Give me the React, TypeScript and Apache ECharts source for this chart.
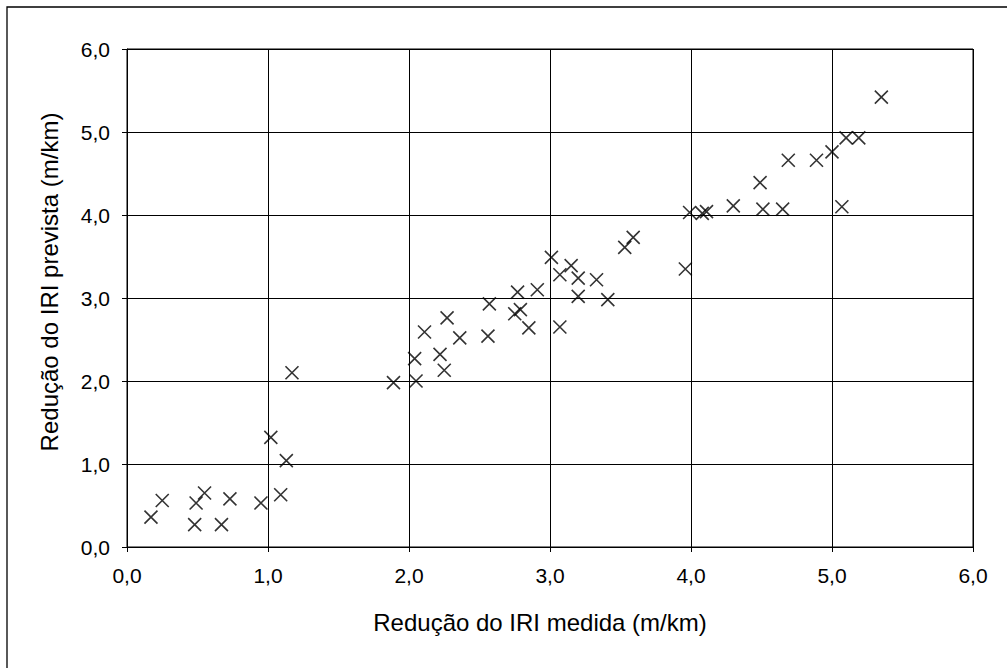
import React, { useEffect, useRef } from "react";
import * as echarts from "echarts";

const xMeasured: number[] = [
  0.17, 0.25, 0.48, 0.49, 0.55, 0.67, 0.73, 0.95, 1.02, 1.09, 1.13, 1.17,
  1.89, 2.04, 2.05, 2.11, 2.22, 2.27, 2.25, 2.36, 2.56, 2.57, 2.75, 2.79, 2.77, 2.85, 2.91,
  3.01, 3.07, 3.07, 3.15, 3.20, 3.20, 3.33, 3.41, 3.53, 3.59,
  3.96, 3.99, 4.08, 4.11, 4.30, 4.49, 4.51, 4.65, 4.69, 4.89, 5.00, 5.07, 5.10, 5.19, 5.35,
];
const yPredicted: number[] = [
  0.36, 0.56, 0.27, 0.53, 0.65, 0.27, 0.58, 0.53, 1.32, 0.63, 1.04, 2.10,
  1.98, 2.27, 2.00, 2.59, 2.32, 2.76, 2.13, 2.52, 2.54, 2.93, 2.81, 2.86, 3.07, 2.64, 3.10,
  3.49, 2.65, 3.28, 3.39, 3.24, 3.02, 3.22, 2.98, 3.61, 3.73,
  3.35, 4.03, 4.02, 4.04, 4.11, 4.39, 4.07, 4.07, 4.66, 4.66, 4.76, 4.10, 4.93, 4.93, 5.42,
];
const axisTicks: number[] = [0, 1, 2, 3, 4, 5, 6];
const xTitle = "Redução do IRI medida (m/km)";
const yTitle = "Redução do IRI prevista (m/km)";

export default function App() {
  const ref = useRef<HTMLDivElement>(null);
  useEffect(() => {
    if (!ref.current) return;
    const chart = echarts.init(ref.current, null, { renderer: "svg" });
    const data = xMeasured.map((x, i) => [x, yPredicted[i]]);
    const fmt = (v: number) => v.toFixed(1).replace(".", ",");
    const font = "Liberation Sans, Arial, sans-serif";
    const axisCommon = {
      min: axisTicks[0],
      max: axisTicks[axisTicks.length - 1],
      interval: 1,
      axisLine: { show: true, lineStyle: { color: "#000", width: 1 } },
      axisTick: { show: true, inside: false, length: 5, lineStyle: { color: "#000" } },
      splitLine: { show: true, lineStyle: { color: "#000", width: 1 } },
      nameLocation: "middle" as const,
    };
    const titleStyle = { color: "#000", fontFamily: font, fontSize: 24 };
    const label = { color: "#000", fontFamily: font, fontSize: 21, formatter: fmt };
    chart.setOption({
      animation: false,
      backgroundColor: "#fff",
      grid: { left: 127, top: 49, width: 846, height: 498, show: true, borderColor: "#000", borderWidth: 1 },
      xAxis: {
        ...axisCommon,
        type: "value",
        name: xTitle,
        nameGap: 63,
        nameTextStyle: { ...titleStyle, padding: [0, 20, 0, 0] },
        axisLabel: { ...label, margin: 18 },
      },
      yAxis: {
        ...axisCommon,
        type: "value",
        name: yTitle,
        nameGap: 66,
        nameTextStyle: { ...titleStyle, padding: [0, 0, 0, 32] },
        axisLabel: { ...label, margin: 17 },
      },
      graphic: [
        {
          type: "rect",
          shape: { x: 7, y: 7, width: 1010, height: 670 },
          style: { fill: "none", stroke: "#000", lineWidth: 1.3 },
          silent: true,
        },
      ],
      series: [
        {
          type: "scatter",
          data,
          symbol: "path://M0,0L10,10M10,0L0,10",
          symbolSize: 13,
          itemStyle: { color: "none", borderColor: "#000", borderWidth: 1.6 },
        },
      ],
    });
    return () => chart.dispose();
  }, []);
  return (
    <div
      ref={ref}
      style={{ position: "absolute", left: 0, top: 0, width: 1007, height: 668, background: "#fff" }}
    />
  );
}
